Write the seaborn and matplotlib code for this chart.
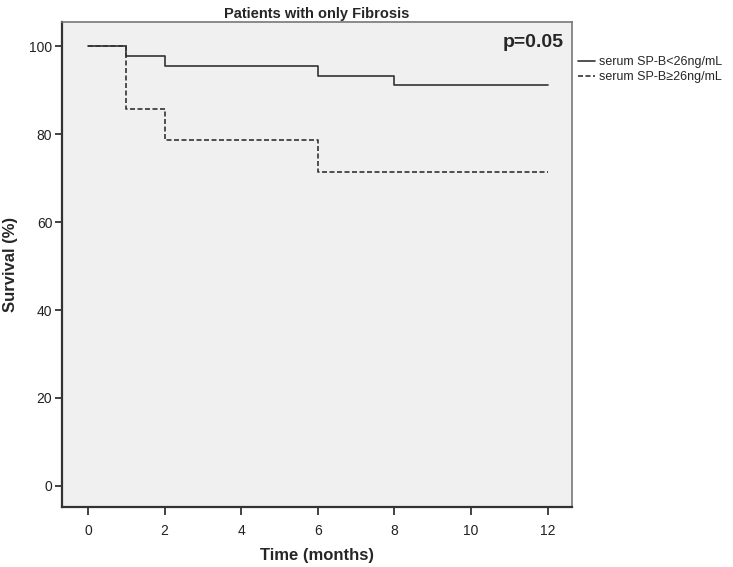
import matplotlib
matplotlib.use("Agg")
import matplotlib.pyplot as plt
import pandas as pd
import seaborn as sns

# Kaplan-Meier step values
low_months = [0, 1, 2, 6, 8, 12]
low_surv = [100.0, 97.8, 95.6, 93.3, 91.1, 91.1]
high_months = [0, 1, 2, 6, 12]
high_surv = [100.0, 85.7, 78.6, 71.4, 71.4]
labels = ["serum SP-B<26ng/mL", "serum SP-B\u226526ng/mL"]
x_ticks = [0, 2, 4, 6, 8, 10, 12]
y_ticks = [0, 20, 40, 60, 80, 100]

sns.set_theme(style="white")
plt.rcParams["font.family"] = ["Liberation Sans Narrow", "Liberation Sans", "DejaVu Sans"]

df = pd.concat([
    pd.DataFrame({"month": low_months, "surv": low_surv, "group": labels[0]}),
    pd.DataFrame({"month": high_months, "surv": high_surv, "group": labels[1]}),
], ignore_index=True)

fig = plt.figure(figsize=(7.33, 5.67), dpi=100)
ax = fig.add_axes([0.0846, 0.1058, 0.6954, 0.8552])
ax.set_facecolor("#f0f0f0")

sns.lineplot(data=df, x="month", y="surv", hue="group", style="group",
             palette=["#333333", "#333333"], dashes=[(None, None), (3, 1.5)],
             drawstyle="steps-post", linewidth=1.2, ax=ax, legend=False)

ax.set_xlim(-0.68, 12.63)
ax.set_ylim(-4.8, 105.5)
ax.set_xticks(x_ticks)
ax.set_yticks(y_ticks)
ax.tick_params(axis="both", direction="out", length=6, width=1.2, labelsize=10,
               colors="#222222", bottom=True, left=True)
ax.tick_params(axis="x", pad=6)
ax.tick_params(axis="y", pad=2, length=5)

for side in ["left", "bottom"]:
    ax.spines[side].set_color("#333333")
    ax.spines[side].set_linewidth(1.6)
for side in ["top", "right"]:
    ax.spines[side].set_color("#777777")
    ax.spines[side].set_linewidth(1.2)

ax.set_xlabel("Time (months)", fontsize=12, fontweight="bold")
ax.set_ylabel("Survival (%)", fontsize=12, fontweight="bold")
ax.xaxis.set_label_coords(0.5, -0.085)
ax.yaxis.set_label_coords(-0.086, 0.5)
ax.set_title("Patients with only Fibrosis", fontsize=10.5, fontweight="bold", pad=3)
ax.text(0.985, 0.975, "p=0.05", transform=ax.transAxes, ha="right", va="top",
        fontsize=14, fontweight="bold")

handles = [
    matplotlib.lines.Line2D([], [], color="#333333", linewidth=1.2),
    matplotlib.lines.Line2D([], [], color="#333333", linewidth=1.2, linestyle=(0, (3, 1.5))),
]
ax.legend(handles, labels, loc="upper left", bbox_to_anchor=(1.002, 0.94), frameon=False,
          fontsize=9, handlelength=1.4, handletextpad=0.3, labelspacing=0.25,
          borderaxespad=0.0)

fig.savefig("out.png", dpi=100)
